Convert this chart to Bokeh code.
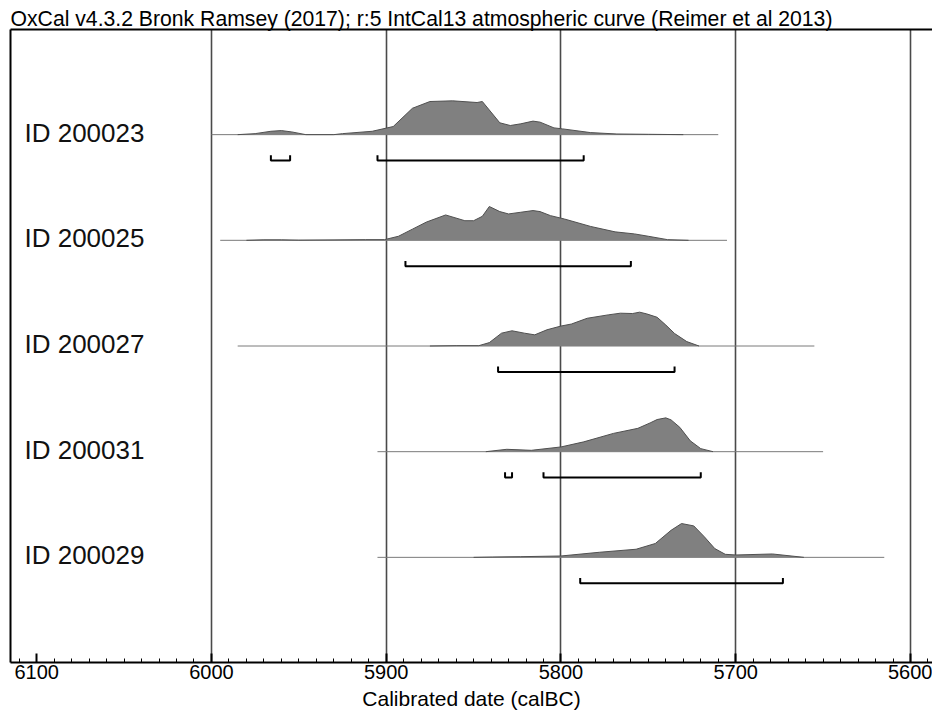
from bokeh.plotting import figure
from bokeh.models import Range1d, FixedTicker, LinearAxis, ColumnDataSource
from bokeh.embed import file_html
from bokeh.resources import INLINE
from bokeh.core.properties import value

TITLE = "OxCal v4.3.2 Bronk Ramsey (2017); r:5 IntCal13 atmospheric curve (Reimer et al 2013)"
XLABEL = "Calibrated date (calBC)"

samples = ["ID 200023", "ID 200025", "ID 200027", "ID 200031", "ID 200029"]

# probability distributions (relative density, years calBC)
years_200023 = [5985, 5975, 5966, 5960, 5954, 5946, 5930, 5925, 5908, 5896, 5885, 5875, 5862,
                5848, 5845, 5835, 5829, 5823, 5816, 5812, 5804, 5799, 5783, 5768, 5750, 5730]
dens_200023 = [0, 0.03, 0.10, 0.12, 0.08, 0.0, 0.0, 0.03, 0.10, 0.24, 0.78, 0.98, 1.0,
               0.95, 0.98, 0.35, 0.27, 0.32, 0.40, 0.37, 0.20, 0.17, 0.06, 0.02, 0.01, 0]

years_200025 = [5980, 5970, 5960, 5950, 5912, 5901, 5893, 5885, 5877, 5866, 5855, 5850, 5845,
                5841, 5835, 5830, 5823, 5816, 5812, 5806, 5798, 5783, 5769, 5758, 5750, 5739, 5727]
dens_200025 = [0, 0.015, 0.015, 0.005, 0.02, 0.02, 0.12, 0.33, 0.54, 0.75, 0.58, 0.58, 0.71,
               1.0, 0.85, 0.78, 0.83, 0.88, 0.85, 0.73, 0.63, 0.41, 0.25, 0.19, 0.12, 0.02, 0]

years_200027 = [5875, 5860, 5847, 5841, 5834, 5828, 5821, 5815, 5808, 5800, 5794, 5785, 5773,
                5766, 5759, 5755, 5751, 5745, 5740, 5735, 5728, 5721]
dens_200027 = [0, 0.01, 0.01, 0.10, 0.38, 0.45, 0.38, 0.33, 0.48, 0.59, 0.65, 0.82, 0.92,
               0.97, 0.96, 1.0, 0.95, 0.85, 0.62, 0.37, 0.13, 0]

years_200031 = [5843, 5831, 5817, 5800, 5787, 5770, 5756, 5749, 5745, 5740, 5737, 5732, 5726,
                5720, 5713]
dens_200031 = [0, 0.07, 0.04, 0.14, 0.29, 0.54, 0.69, 0.85, 0.95, 1.0, 0.94, 0.72, 0.32,
               0.09, 0]

years_200029 = [5850, 5839, 5823, 5800, 5778, 5757, 5746, 5737, 5731, 5724, 5718, 5712, 5706,
                5700, 5679, 5661]
dens_200029 = [0, 0.01, 0.02, 0.04, 0.15, 0.24, 0.41, 0.80, 1.0, 0.93, 0.61, 0.26, 0.09,
               0.07, 0.10, 0]

# extent of each thin baseline (calBC)
line_start = [6000, 5995, 5985, 5905, 5905]
line_end = [5710, 5705, 5655, 5650, 5615]

# highest posterior density ranges (calBC)
hpd_200023 = [(5966, 5955), (5905, 5787)]
hpd_200025 = [(5889, 5760)]
hpd_200027 = [(5836, 5735)]
hpd_200031 = [(5832, 5828), (5810, 5720)]
hpd_200029 = [(5789, 5673)]

years_all = [years_200023, years_200025, years_200027, years_200031, years_200029]
dens_all = [dens_200023, dens_200025, dens_200027, dens_200031, dens_200029]
hpd_all = [hpd_200023, hpd_200025, hpd_200027, hpd_200031, hpd_200029]

major_ticks = [6100, 6000, 5900, 5800, 5700, 5600]
grid_ticks = [6000, 5900, 5800, 5700, 5600]

# layout constants
PEAK = 0.32        # height of distribution peaks (row units)
BAR_OFF = 0.245    # bracket offset below baseline
BAR_TICK = 0.05    # bracket end tick height
LABEL_X = 6107

FONT = "Liberation Sans"

p = figure(width=932, height=712, output_backend="svg", toolbar_location=None,
           x_range=Range1d(6115.0, 5587.4), y_range=Range1d(-4.995, 0.995),
           min_border_left=10, min_border_right=0, min_border_top=29, min_border_bottom=0,
           y_axis_location=None)
p.outline_line_color = None
p.background_fill_color = "white"
p.border_fill_color = "white"

p.title.text = TITLE
p.title.text_font = FONT
p.title.text_font_size = "21.2px"
p.title.text_font_style = "normal"
p.title.text_color = "black"
p.title.align = "left"
p.title.offset = 0
p.title.standoff = 0

# grid
p.ygrid.visible = False
p.xgrid.ticker = FixedTicker(ticks=grid_ticks)
p.xgrid.grid_line_color = "#4a4a4a"
p.xgrid.grid_line_width = 1.6

# bottom axis
ax = p.xaxis[0]
ax.ticker = FixedTicker(ticks=major_ticks, minor_ticks=list(range(6110, 5580, -10)))
ax.axis_line_color = "black"
ax.axis_line_width = 2
ax.major_tick_in = 9
ax.major_tick_out = 0
ax.major_tick_line_width = 2
ax.major_tick_line_color = "black"
ax.minor_tick_in = 4
ax.minor_tick_out = 0
ax.minor_tick_line_color = "black"
ax.minor_tick_line_width = 1
ax.major_label_text_font = FONT
ax.major_label_text_font_size = "20px"
ax.major_label_text_color = "black"
ax.major_label_standoff = 2
ax.axis_label = XLABEL
ax.axis_label_text_font = FONT
ax.axis_label_text_font_size = "21px"
ax.axis_label_text_font_style = "normal"
ax.axis_label_text_color = "black"
ax.axis_label_standoff = 5

# left and top frame lines
for loc in ("left", "above"):
    a = LinearAxis(ticker=FixedTicker(ticks=[]), major_tick_in=0, major_tick_out=0,
                   minor_tick_in=0, minor_tick_out=0, major_label_text_font_size="0px",
                   major_label_standoff=0, axis_line_color="black", axis_line_width=2)
    p.add_layout(a, loc)

# rows
for i, name in enumerate(samples):
    base = -i
    ys = years_all[i]
    top = [base + PEAK * d for d in dens_all[i]]
    # thin baseline
    p.line([line_start[i], line_end[i]], [base, base], line_color="#7a7a7a", line_width=1)
    src = ColumnDataSource(dict(x=ys, y1=[base] * len(ys), y2=top))
    p.varea(x="x", y1="y1", y2="y2", source=src, fill_color="#808080")
    p.line(x="x", y="y2", source=src, line_color="#505050", line_width=1)
    # HPD brackets
    for (a0, a1) in hpd_all[i]:
        yb = base - BAR_OFF
        p.line([a0, a0, a1, a1], [yb + BAR_TICK, yb, yb, yb + BAR_TICK],
               line_color="black", line_width=2)

lab_src = ColumnDataSource(dict(x=[LABEL_X] * len(samples),
                                y=[-i + 0.02 for i in range(len(samples))],
                                t=samples))
p.text(x="x", y="y", text="t", source=lab_src, text_font=value(FONT),
       text_font_size="26px", text_baseline="middle", text_align="left", text_color="#111111")

open("out.html", "w").write(file_html(p, INLINE))
